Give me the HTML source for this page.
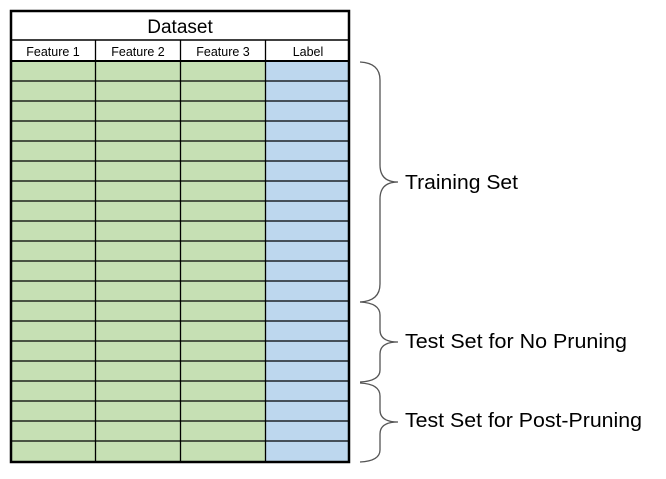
<!DOCTYPE html>
<html><head><style>
body{margin:0;width:666px;height:474px;background:#fff;overflow:hidden;font-family:"Liberation Sans",sans-serif;}
</style></head><body>
<svg width="666" height="474" xmlns="http://www.w3.org/2000/svg">
<rect x="10" y="61" width="255" height="401" fill="#c6e0b4"/>
<rect x="265" y="61" width="85" height="401" fill="#bdd7ee"/>
<g stroke="#000" stroke-width="1.3">
<line x1="10" y1="40" x2="350" y2="40" stroke-width="1.5"/>
<line x1="10" y1="61" x2="350" y2="61" stroke-width="2"/>
<line x1="95.5" y1="40" x2="95.5" y2="462"/>
<line x1="180.5" y1="40" x2="180.5" y2="462"/>
<line x1="265.5" y1="40" x2="265.5" y2="462"/>
<line x1="10" y1="81" x2="350" y2="81"/><line x1="10" y1="101" x2="350" y2="101"/>
<line x1="10" y1="121" x2="350" y2="121"/><line x1="10" y1="141" x2="350" y2="141"/>
<line x1="10" y1="161" x2="350" y2="161"/><line x1="10" y1="181" x2="350" y2="181"/>
<line x1="10" y1="201" x2="350" y2="201"/><line x1="10" y1="221" x2="350" y2="221"/>
<line x1="10" y1="241" x2="350" y2="241"/><line x1="10" y1="261" x2="350" y2="261"/>
<line x1="10" y1="281" x2="350" y2="281"/><line x1="10" y1="301" x2="350" y2="301"/>
<line x1="10" y1="321" x2="350" y2="321"/><line x1="10" y1="341" x2="350" y2="341"/>
<line x1="10" y1="361" x2="350" y2="361"/><line x1="10" y1="381" x2="350" y2="381"/>
<line x1="10" y1="401" x2="350" y2="401"/><line x1="10" y1="421" x2="350" y2="421"/>
<line x1="10" y1="441" x2="350" y2="441"/>
</g>
<rect x="11" y="11" width="338" height="451" fill="none" stroke="#000" stroke-width="2.5"/>
<g font-family="Liberation Sans, sans-serif" text-anchor="middle">
<text x="180" y="33" font-size="19">Dataset</text>
<text x="53" y="56" font-size="12.5">Feature 1</text>
<text x="138" y="56" font-size="12.5">Feature 2</text>
<text x="223" y="56" font-size="12.5">Feature 3</text>
<text x="308" y="56" font-size="12.5">Label</text>
</g>
<g fill="none" stroke="#555" stroke-width="1.3">
<path d="M360 62 Q380 63 380 80 L380 165 Q380 182 398 182 Q380 182 380 199 L380 284 Q380 301 360 302"/>
<path d="M360 302 Q380 303 380 315 L380 330 Q380 342 398 342 Q380 342 380 354 L380 370 Q380 381 360 382"/>
<path d="M360 383 Q380 384 380 396 L380 410 Q380 422 398 422 Q380 422 380 434 L380 450 Q380 461 360 462"/>
</g>
<g font-family="Liberation Sans, sans-serif" font-size="20.5" fill="#000">
<text x="405" y="189" textLength="113" lengthAdjust="spacingAndGlyphs">Training Set</text>
<text x="405" y="348" textLength="222" lengthAdjust="spacingAndGlyphs">Test Set for No Pruning</text>
<text x="405" y="427" textLength="237" lengthAdjust="spacingAndGlyphs">Test Set for Post-Pruning</text>
</g>
</svg>
</body></html>
